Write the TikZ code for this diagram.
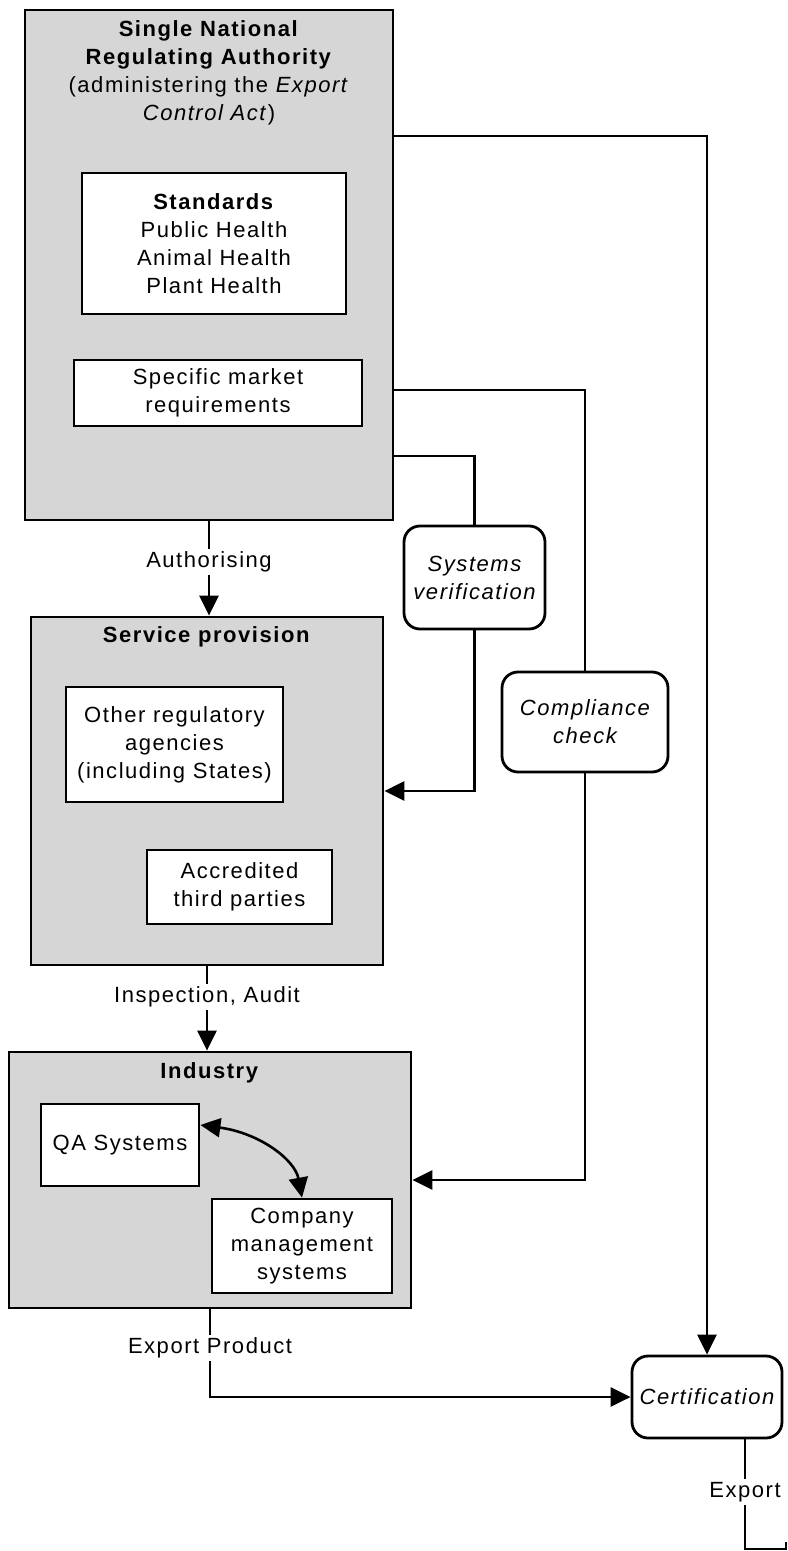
\documentclass[tikz,border=0pt]{standalone}
\usepackage{fontspec}
\setmainfont{Liberation Sans}[LetterSpace=7]
\usetikzlibrary{arrows.meta}
\definecolor{boxgrey}{RGB}{214,214,214}
\begin{document}
\begin{tikzpicture}[x=0.5pt,y=-0.5pt,
  font=\fontsize{11}{14}\selectfont,
  container/.style={draw, line width=1.4pt, fill=boxgrey, inner sep=0pt},
  inbox/.style={draw, line width=1.4pt, fill=white, align=center, inner sep=0pt},
  rbox/.style={inbox, rounded corners=8pt, font=\fontsize{11}{14}\selectfont\itshape},
  ttl/.style={align=center, inner sep=0pt},
  lbl/.style={fill=white, inner sep=1.5pt},
  conn/.style={line width=1.3pt},
  tip/.tip={Triangle[length=10pt,width=9.5pt]},
  arr/.style={conn, -tip}]
\useasboundingbox (0,0) rectangle (787,1551);

% containers
\node[container, minimum width=184pt, minimum height=255pt] (snra) at (209,265) {};
\node[container, minimum width=176pt, minimum height=174pt] (service) at (207,791) {};
\node[container, minimum width=201pt, minimum height=128pt] (industry) at (210,1180) {};

% titles
\node[ttl] (snratitle) at (209,73) {\textbf{Single National}\\\textbf{Regulating Authority}\\(administering the \textit{Export}\\\textit{Control Act})};
\node[ttl] (servtitle) at (207,637) {\textbf{Service provision}};
\node[ttl] (indtitle) at (210,1073) {\textbf{Industry}};

% inner boxes
\node[inbox, minimum width=132pt, minimum height=70.5pt] (standards) at (214,243.5) {\textbf{Standards}\\Public Health\\Animal Health\\Plant Health};
\node[inbox, minimum width=144pt, minimum height=33pt] (specific) at (218,393) {Specific market\\requirements};
\node[inbox, minimum width=108.5pt, minimum height=57.5pt] (other) at (174.5,744.5) {Other regulatory\\agencies\\(including States)};
\node[inbox, minimum width=92.5pt, minimum height=37pt] (accred) at (239.5,887) {Accredited\\third parties};
\node[inbox, minimum width=79pt, minimum height=41pt] (qa) at (120,1145) {QA Systems};
\node[inbox, minimum width=90pt, minimum height=47pt] (company) at (302,1246) {Company\\management\\systems};

% rounded process boxes
\node[rbox, minimum width=70.5pt, minimum height=51.5pt] (sv) at (474.5,577.5) {Systems\\verification};
\node[rbox, minimum width=83pt, minimum height=50pt] (comp) at (585,722) {Compliance\\check};
\node[rbox, minimum width=75pt, minimum height=41pt] (cert) at (707,1397) {Certification};

% exit points on the authority box
\path (snra.east) ++(0,-129) coordinate (t1);
\path (snra.east) ++(0,125) coordinate (t2);
\path (snra.east) ++(0,191) coordinate (t3);
\path (qa.east) ++(0,-20) coordinate (q1);
\coordinate (ex1) at ([xshift=19pt]cert.south);
\coordinate (ex2) at (786,1549);
\coordinate (ex3) at (786,1542);

% connectors
\draw[arr] (snra.south) -- (snra.south |- service.north);
\node[lbl] (lauth) at (209,562) {Authorising};
\draw[arr] (service.south) -- (service.south |- industry.north);
\node[lbl] (linsp) at (207,997) {Inspection, Audit};
\draw[arr] (industry.south) |- (cert.west);
\node[lbl] (lprod) at (210,1348) {Export Product};

\draw[arr] (t1) -| (cert.north);
\draw[conn] (t2) -| (comp.north);
\draw[arr] (comp.south) |- (industry.east);
\draw[conn] (t3) -| (sv.north);
\draw[arr] (sv.south) |- (service.east);

\draw[conn, tip-tip] (q1) .. controls (260,1133) and (295,1160) .. (company.north);

\draw[conn] (ex1) |- (ex2) -- (ex3);
\node[lbl] (lexp) at (745,1492) {Export};
\end{tikzpicture}
\end{document}
